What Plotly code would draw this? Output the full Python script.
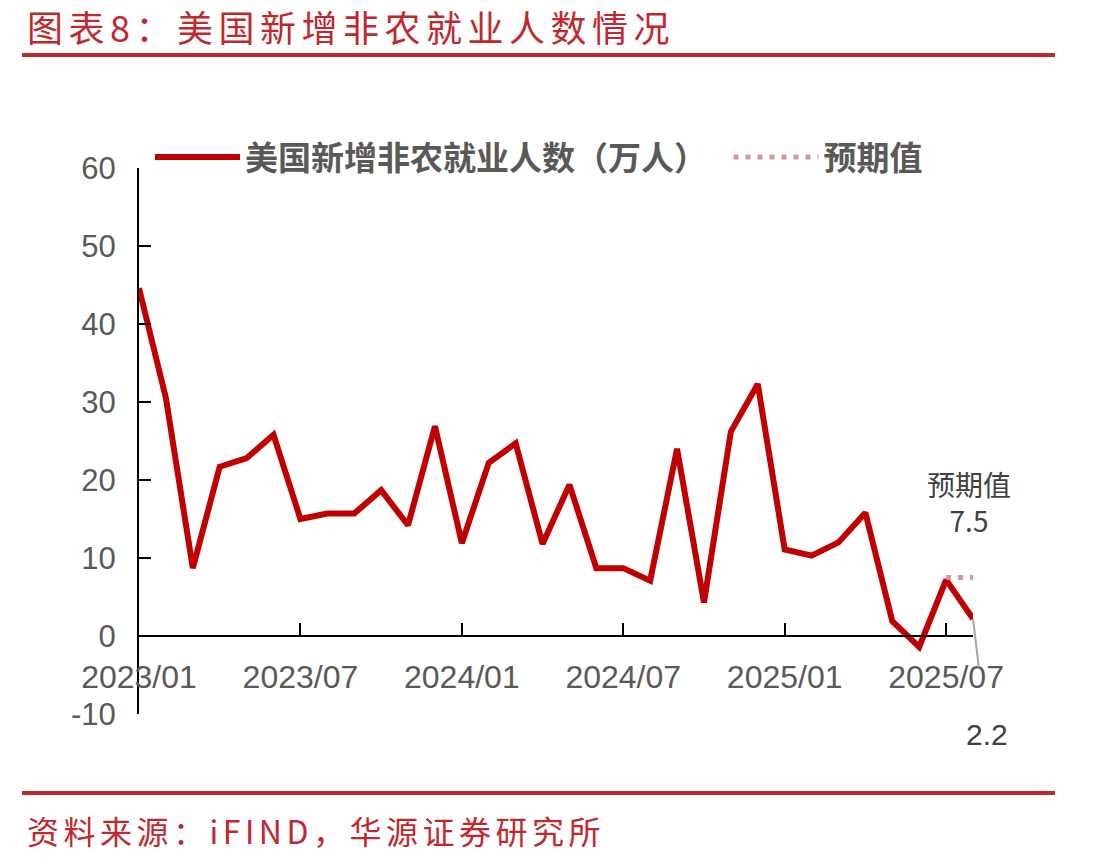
import plotly.graph_objects as go

months = ["2023/01","2023/02","2023/03","2023/04","2023/05","2023/06","2023/07","2023/08",
          "2023/09","2023/10","2023/11","2023/12","2024/01","2024/02","2024/03","2024/04",
          "2024/05","2024/06","2024/07","2024/08","2024/09","2024/10","2024/11","2024/12",
          "2025/01","2025/02","2025/03","2025/04","2025/05","2025/06","2025/07","2025/08"]
nfp = [44.6, 30.5, 8.7, 21.7, 22.8, 25.8, 15.0, 15.7,
       15.7, 18.7, 14.2, 26.9, 11.9, 22.2, 24.7, 11.8,
       19.4, 8.7, 8.7, 7.1, 24.0, 4.3, 26.2, 32.3,
       11.1, 10.3, 12.0, 15.8, 1.9, -1.4, 7.2, 2.2]
expected = [None]*30 + [7.5, 7.5]
tick_labels = ["2023/01", "2023/07", "2024/01", "2024/07", "2025/01", "2025/07"]
tick_idx = [months.index(t) for t in tick_labels]
y_ticks = [-10, 0, 10, 20, 30, 40, 50, 60]
x = list(range(len(months)))

W, H = 1113, 865
L, R, T, B = 139, 140, 168, 151
PW, PH = W - L - R, H - T - B
def px(v): return (v - L) / PW
def py(v): return (H - B - v) / PH

RED = "#C0282D"
GRAY = "#595959"
FONT = "Liberation Sans, Arial, sans-serif"
CJK = "Noto Sans CJK SC, sans-serif"

def spaced(s, sp):
    return f'<span style="letter-spacing:{sp}px">{s}</span>'

fig = go.Figure()
fig.add_trace(go.Scatter(x=x, y=nfp, mode="lines", name="美国新增非农就业人数（万人）\u2002",
                         line=dict(color="#C00000", width=6)))
fig.add_trace(go.Scatter(x=x, y=expected, mode="lines", name="预期值",
                         line=dict(color="#D9939B", width=5, dash="5px,7px")))

ymin, ymax = y_ticks[0], y_ticks[-1]
fig.update_layout(
    width=W, height=H,
    margin=dict(l=L, r=R, t=T, b=B, pad=0),
    paper_bgcolor="white", plot_bgcolor="white",
    showlegend=True,
    legend=dict(orientation="h", x=px(150), xanchor="left", y=py(157), yanchor="middle",
                font=dict(family=CJK, size=33, color=GRAY, weight="bold"),
                itemwidth=85, bgcolor="rgba(0,0,0,0)"),
    xaxis=dict(range=[0, len(months)-1], showgrid=False, zeroline=False,
               tickmode="array", tickvals=tick_idx, ticktext=tick_labels,
               ticks="inside", ticklen=12, tickwidth=2, tickcolor="black",
               showline=True, linecolor="black", linewidth=2,
               anchor="free", position=(0 - ymin) / (ymax - ymin),
               tickfont=dict(family=FONT, size=32, color=GRAY),
               ticklabelstandoff=13),
    yaxis=dict(range=[ymin, ymax], showgrid=False, zeroline=False,
               tickmode="array", tickvals=y_ticks, ticktext=[str(v) for v in y_ticks],
               ticks="inside", ticklen=12, tickwidth=2, tickcolor="black",
               showline=True, linecolor="black", linewidth=2,
               tickfont=dict(family=FONT, size=31, color=GRAY),
               ticklabelstandoff=15),
)

fig.add_annotation(x=px(25), y=py(26), xref="paper", yref="paper",
                   text=spaced("图表8：美国新增非农就业人数情况", 5.5), showarrow=False,
                   xanchor="left", yanchor="middle",
                   font=dict(family=CJK, size=36, color=RED))
fig.add_annotation(x=x[-1], y=expected[-1], text="预期值<br>7.5", showarrow=False,
                   xanchor="center", yanchor="bottom", yshift=36, xshift=-4,
                   font=dict(family=CJK, size=28, color="#404040"))
fig.add_annotation(x=x[-1], y=nfp[-1], text=f"{nfp[-1]}", showarrow=True,
                   ax=14, ay=116, arrowhead=0, arrowwidth=2, arrowcolor="#A6A6A6",
                   startstandoff=50,
                   font=dict(family=FONT, size=30, color="#404040"))
fig.add_annotation(x=px(25), y=py(830), xref="paper", yref="paper",
                   text=spaced("资料来源：iFIND，华源证券研究所", 4.5), showarrow=False,
                   xanchor="left", yanchor="middle",
                   font=dict(family=CJK, size=32, color=RED))

fig.add_shape(type="line", xref="paper", yref="paper", x0=px(22), x1=px(1055),
              y0=py(55), y1=py(55), line=dict(color=RED, width=4))
fig.add_shape(type="line", xref="paper", yref="paper", x0=px(22), x1=px(1055),
              y0=py(793), y1=py(793), line=dict(color=RED, width=4))

fig.write_html("out.html")
